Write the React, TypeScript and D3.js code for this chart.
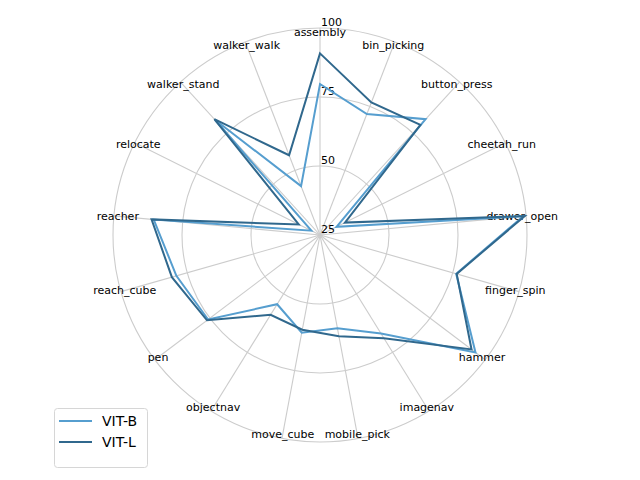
import React, { useEffect, useRef } from "react";
import * as d3 from "d3";

const categories = [
  "assembly", "bin_picking", "button_press", "cheetah_run", "drawer_open",
  "finger_spin", "hammer", "imagenav", "mobile_pick", "move_cube",
  "objectnav", "pen", "reach_cube", "reacher", "relocate",
  "walker_stand", "walker_walk",
];
const vitB = [79.7, 72, 81.8, 31.7, 99, 76.3, 95.6, 67, 59.4, 61, 54.5, 75.8, 79.1, 85.5, 28.5, 81.5, 44];
const vitL = [90.8, 76.5, 79, 35.1, 99.5, 76.5, 93.8, 69, 62.3, 59.9, 59, 76.3, 80.8, 86.3, 33.6, 81.8, 56];
const seriesNames = ["VIT-B", "VIT-L"];
const seriesColors = ["#569ecf", "#30688d"];
const radialTicks = [25, 50, 75, 100];

export default function App() {
  const ref = useRef<SVGSVGElement>(null);

  useEffect(() => {
    const width = 640;
    const height = 480;
    const cx = 320;
    const cy = 235;
    const outer = 207;
    const font = "DejaVu Sans, sans-serif";

    const svg = d3.select(ref.current);
    svg.selectAll("*").remove();
    svg.attr("width", width).attr("height", height);

    const g = svg.append("g").attr("transform", `translate(${cx},${cy})`);

    const r = d3.scaleLinear().domain([25, 100]).range([0, outer]);
    const angle = d3
      .scaleLinear()
      .domain([0, categories.length])
      .range([0, 2 * Math.PI]);

    // rings
    g.selectAll("circle.ring")
      .data(radialTicks.slice(1))
      .enter()
      .append("circle")
      .attr("class", "ring")
      .attr("r", d => r(d))
      .attr("fill", "none")
      .attr("stroke", "#cccccc")
      .attr("stroke-width", 1.1);

    // spokes
    g.selectAll("line.spoke")
      .data(categories)
      .enter()
      .append("line")
      .attr("x1", 0)
      .attr("y1", 0)
      .attr("x2", (_, i) => outer * Math.sin(angle(i)))
      .attr("y2", (_, i) => -outer * Math.cos(angle(i)))
      .attr("stroke", "#cccccc")
      .attr("stroke-width", 1.1);

    // radial tick labels
    g.selectAll("text.rtick")
      .data(radialTicks)
      .enter()
      .append("text")
      .attr("x", 1)
      .attr("y", d => -r(d) - 2)
      .attr("font-family", font)
      .attr("font-size", 11)
      .attr("fill", "#000")
      .text(d => d);

    // category labels
    const labelR = 203;
    g.selectAll("text.cat")
      .data(categories)
      .enter()
      .append("text")
      .attr("x", (_, i) => labelR * Math.sin(angle(i)))
      .attr("y", (_, i) => -labelR * Math.cos(angle(i)))
      .attr("text-anchor", "middle")
      .attr("dominant-baseline", "central")
      .attr("font-family", font)
      .attr("font-size", 11)
      .attr("fill", "#000")
      .text(d => d);

    const line = d3
      .lineRadial<number>()
      .angle((_, i) => angle(i))
      .radius(d => r(d))
      .curve(d3.curveLinearClosed);

    [vitB, vitL].forEach((vals, k) => {
      g.append("path")
        .attr("d", line(vals))
        .attr("fill", "none")
        .attr("stroke", seriesColors[k])
        .attr("stroke-width", 2)
        .attr("stroke-linejoin", "miter");
    });

    // legend
    const lg = svg.append("g").attr("transform", "translate(54,408)");
    lg.append("rect")
      .attr("x", 0.5)
      .attr("y", 0.5)
      .attr("width", 93)
      .attr("height", 59)
      .attr("rx", 3)
      .attr("fill", "#fff")
      .attr("fill-opacity", 0.8)
      .attr("stroke", "#d6d6d6");
    seriesNames.forEach((name, k) => {
      const y = 13 + k * 21;
      lg.append("line")
        .attr("x1", 5)
        .attr("x2", 38)
        .attr("y1", y)
        .attr("y2", y)
        .attr("stroke", seriesColors[k])
        .attr("stroke-width", 2);
      lg.append("text")
        .attr("x", 48)
        .attr("y", y)
        .attr("dominant-baseline", "central")
        .attr("font-family", font)
        .attr("font-size", 14)
        .attr("fill", "#000")
        .text(name);
    });
  }, []);

  return (
    <svg ref={ref} style={{ position: "absolute", left: 0, top: 0 }} />
  );
}
